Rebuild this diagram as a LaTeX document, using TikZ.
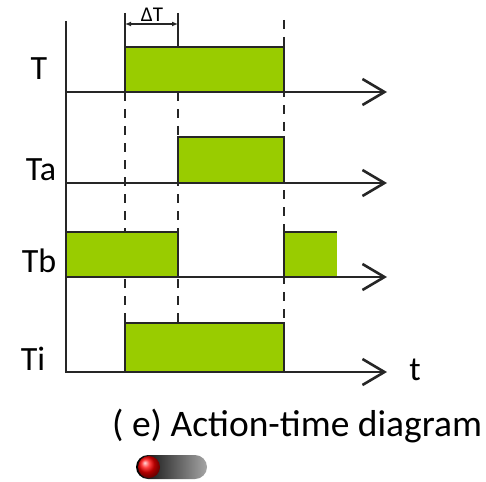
\documentclass[tikz,border=0pt]{standalone}
\usepackage{fontspec}
\setmainfont{Carlito}
\usetikzlibrary{arrows.meta}
\definecolor{pulsegreen}{HTML}{99CC00}
\begin{document}
\begin{tikzpicture}[x=1pt,y=-1pt,
  axisline/.style={line width=2.5pt,black!85,-{Straight Barb[length=22pt,width=26pt,line width=2.6pt]}},
  vaxis/.style={line width=2.5pt,black!85},
  pulse/.style={fill=pulsegreen,draw=black!85,line width=2.5pt},
  guide/.style={line width=2pt,black!85,dash pattern=on 9pt off 8pt},
  ext/.style={line width=2pt,black!85},
  dim/.style={line width=1.2pt,black!85,{Latex[length=6pt,width=5pt]}-{Latex[length=6pt,width=5pt]}},
  lbl/.style={font=\fontsize{34}{40}\selectfont,inner sep=0pt,anchor=base},
]
\useasboundingbox (0,0) rectangle (486,481);

% guide lines (dashed)
\draw[guide] (125,92) -- (125,323);
\draw[guide] (178,92) -- (178,323);
\draw[guide] (284,20) -- (284,323);

% Delta T dimension
\draw[ext] (125,13) -- (125,47);
\draw[ext] (178,13) -- (178,47);
\draw[dim] (125,24) -- (178,24);
\node[font=\fontsize{21}{24}\selectfont,inner sep=0pt,anchor=base] (dT) at (152,22) {ΔT};

% pulses
\draw[pulse] (125,47) rectangle (284,92);
\draw[pulse] (178,137) rectangle (284,183);
\draw[pulse] (66,232) rectangle (178,277);
\fill[pulsegreen] (284,232) rectangle (337,277);
\draw[line width=2.5pt,black!85] (284,277) -- (284,232) -- (337,232);
\draw[pulse] (125,323) rectangle (284,372);

% axes
\draw[vaxis] (66,21) -- (66,373.2);
\draw[axisline] (66,92) -- (387,92);
\draw[axisline] (66,183) -- (387,183);
\draw[axisline] (66,277) -- (387,277);
\draw[axisline] (64.75,372) -- (387,372);

% labels
\node[lbl] (lT) at (39,80) {T};
\node[lbl] (lTa) at (41,180) {Ta};
\node[lbl] (lTb) at (39,272) {Tb};
\node[lbl] (lTi) at (33,370) {Ti};
\node[lbl] (lt) at (415,380) {t};

% caption
\node[font=\fontsize{37.5}{42}\selectfont,inner sep=0pt,anchor=base west] (cap) at (112,436) {( e) Action-time diagram};

% toggle
\shade[left color=black,right color=gray!70,rounded corners=12pt] (136,455) rectangle (207,479);
\shade[ball color=red] (149,467) circle[radius=11];
\end{tikzpicture}
\end{document}
